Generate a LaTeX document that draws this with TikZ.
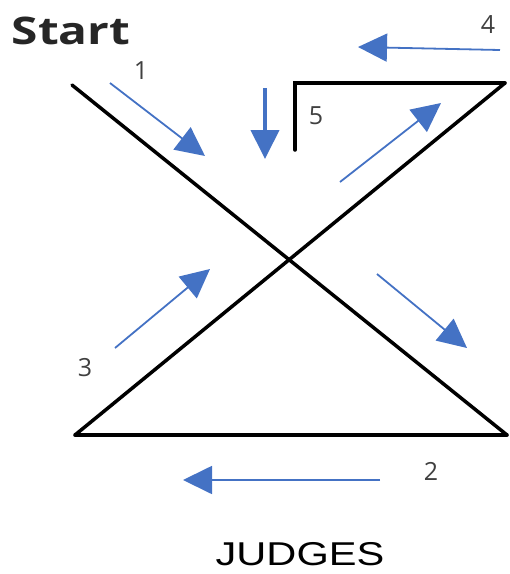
\documentclass[tikz,border=0pt]{standalone}
\usepackage{fontspec}
\setmainfont{Open Sans}
\newfontfamily\arialfont{Liberation Sans}
\usetikzlibrary{arrows.meta}
\definecolor{flowblue}{HTML}{4472C4}
\definecolor{numgray}{HTML}{404040}
\begin{document}
\begin{tikzpicture}[x=1pt,y=-1pt,
  frame/.style={line width=3.5pt,black,line cap=round,line join=miter},
  flow/.style={line width=1.8pt,flowblue,-{Triangle[length=29pt,width=28pt]}},
  num/.style={text=numgray,font=\fontsize{25}{25}\selectfont,inner sep=0pt}]
\useasboundingbox (0,0) rectangle (510,574);
% frame points
\coordinate (tl) at (72,85);
\coordinate (br) at (507,435);
\coordinate (bl) at (75,435);
\coordinate (tr) at (505,83);
\coordinate (tm) at (295,83);
\coordinate (tv) at (295,150);
\draw[frame] (tl) -- (br);
\draw[frame] (bl) -- (tr);
\draw[frame] (bl) -- (br);
\draw[frame] (tv) -- (tm) -- (tr);
% arrows
\coordinate (a1s) at (110,83);   \coordinate (a1e) at (205,156);
\coordinate (a5s) at (265,88);   \coordinate (a5e) at (265,159);
\coordinate (a4s) at (500,50);   \coordinate (a4e) at (358,47);
\coordinate (ans) at (340,182);  \coordinate (ane) at (441,103);
\coordinate (a3s) at (115,348);  \coordinate (a3e) at (210,269);
\coordinate (ass) at (377,274);  \coordinate (ase) at (467,348);
\coordinate (a2s) at (380,480);  \coordinate (a2e) at (183,480);
\draw[flow] (a1s) -- (a1e);
\draw[flow,line width=4pt] (a5s) -- (a5e);
\draw[flow] (a4s) -- (a4e);
\draw[flow] (ans) -- (ane);
\draw[flow] (a3s) -- (a3e);
\draw[flow] (ass) -- (ase);
\draw[flow] (a2s) -- (a2e);
% labels
\node[text=black!85,font=\fontsize{38}{38}\selectfont\bfseries,inner sep=0pt,xscale=1.26] (start) at (71,31) {Start};
\node[num] (n1) at (141,71) {1};
\node[num] (n4) at (488,25) {4};
\node[num] (n5) at (316,116) {5};
\node[num] (n3) at (85,368) {3};
\node[num] (n2) at (431,471) {2};
\node[font=\arialfont\fontsize{33}{33}\selectfont,inner sep=0pt,xscale=1.26,anchor=base] (judges) at (300,565) {JUDGES};
\end{tikzpicture}
\end{document}
